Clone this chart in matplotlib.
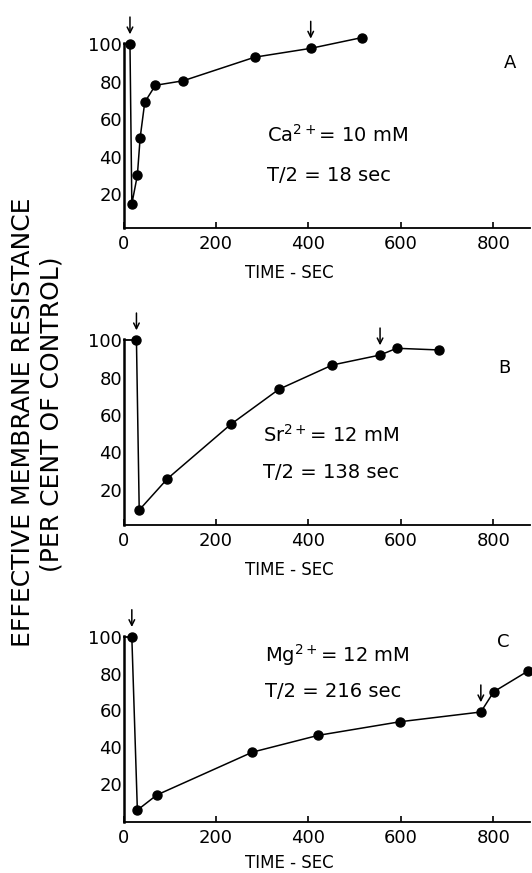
import matplotlib
matplotlib.use("Agg")
import matplotlib.pyplot as plt

plt.rcParams['font.family'] = ['DejaVu Sans']
plt.rcParams['mathtext.default'] = 'regular'

# Panel A (Ca)
time_a = [14, 18, 30, 36, 46, 69, 129, 284, 405, 515]
res_a = [100, 14.7, 30, 50, 69, 78, 80.4, 93, 97.7, 103.4]
arrows_a = [0, 8]
# Panel B (Sr)
time_b = [28, 34, 95, 232, 336, 452, 555, 591, 683]
res_b = [100, 9.3, 26, 55, 73.7, 86.7, 92, 95.6, 94.7]
arrows_b = [0, 6]
# Panel C (Mg)
time_c = [18, 30, 72, 279, 421, 598, 773, 801, 876]
res_c = [100, 5.8, 14, 37.3, 46.4, 53.8, 59.1, 70.1, 81.5]
arrows_c = [0, 6]

xticks = [0, 200, 400, 600, 800]
yticks = [20, 40, 60, 80, 100]

panels = [
    dict(t=time_a, r=res_a, arr=arrows_a, letter='A', let_xy=(836, 90),
         ion='Ca$^{2+}$= 10 mM', half='T/2 = 18 sec', txt_x=310, ion_y=48, half_y=27,
         rect_px=(43.1, 228), ylim=(1.9, 100.5), lab_off=-45),
    dict(t=time_b, r=res_b, arr=arrows_b, letter='B', let_xy=(825, 85),
         ion='Sr$^{2+}$= 12 mM', half='T/2 = 138 sec', txt_x=302, ion_y=45.8, half_y=26.2,
         rect_px=(339.1, 525), ylim=(1.3, 100.5), lab_off=-45),
    dict(t=time_c, r=res_c, arr=arrows_c, letter='C', let_xy=(821, 97),
         ion='Mg$^{2+}$= 12 mM', half='T/2 = 216 sec', txt_x=306, ion_y=86.4, half_y=67,
         rect_px=(635.8, 821.7), ylim=(-0.5, 100.5), lab_off=-41),
]

W, H = 532, 873
fig = plt.figure(figsize=(W / 100, H / 100), dpi=100)

left_px, right_px = 123.5, 530.3
for p in panels:
    top, bot = p['rect_px']
    ax = fig.add_axes([left_px / W, 1 - bot / H, (right_px - left_px) / W, (bot - top) / H])
    ax.set_xlim(0, 880)
    ax.set_ylim(*p['ylim'])
    for s in ['top', 'right']:
        ax.spines[s].set_visible(False)
    ax.spines['left'].set_linewidth(1.8)
    ax.spines['bottom'].set_linewidth(1.3)
    ax.set_xticks(xticks)
    ax.set_yticks(yticks)
    ax.tick_params(axis='both', direction='in', length=4, width=1.2, labelsize=13)
    ax.tick_params(axis='x', pad=5)
    ax.tick_params(axis='y', pad=1, length=0)
    t, r = p['t'], p['r']
    ax.plot([0, t[0]], [100, r[0]], color='black', lw=1.3, clip_on=False)
    ax.plot(t, r, color='black', lw=1.1, marker='o', ms=6.5, clip_on=False)
    for i in p['arr']:
        ax.annotate('', xy=(t[i], r[i]), xytext=(0, 27), textcoords='offset pixels',
                    arrowprops=dict(arrowstyle='->', color='black', lw=1.1,
                                    shrinkA=0, shrinkB=7, mutation_scale=10),
                    annotation_clip=False)
    ax.text(p['let_xy'][0], p['let_xy'][1], p['letter'], fontsize=13,
            ha='center', va='center')
    ax.text(p['txt_x'], p['ion_y'], p['ion'], fontsize=14, ha='left', va='baseline')
    ax.text(p['txt_x'], p['half_y'], p['half'], fontsize=14, ha='left', va='baseline')
    ax.annotate('TIME - SEC', xy=(0.408, 0), xycoords='axes fraction',
                xytext=(0, p['lab_off']), textcoords='offset pixels',
                ha='center', va='center', fontsize=12)

fig.text(23 / W, 1 - 422 / H, 'EFFECTIVE MEMBRANE RESISTANCE', rotation=90,
         ha='center', va='center', fontsize=18)
fig.text(52 / W, 1 - 414 / H, '(PER CENT OF CONTROL)', rotation=90,
         ha='center', va='center', fontsize=18)

fig.savefig('out.png', dpi=100, facecolor='white')
